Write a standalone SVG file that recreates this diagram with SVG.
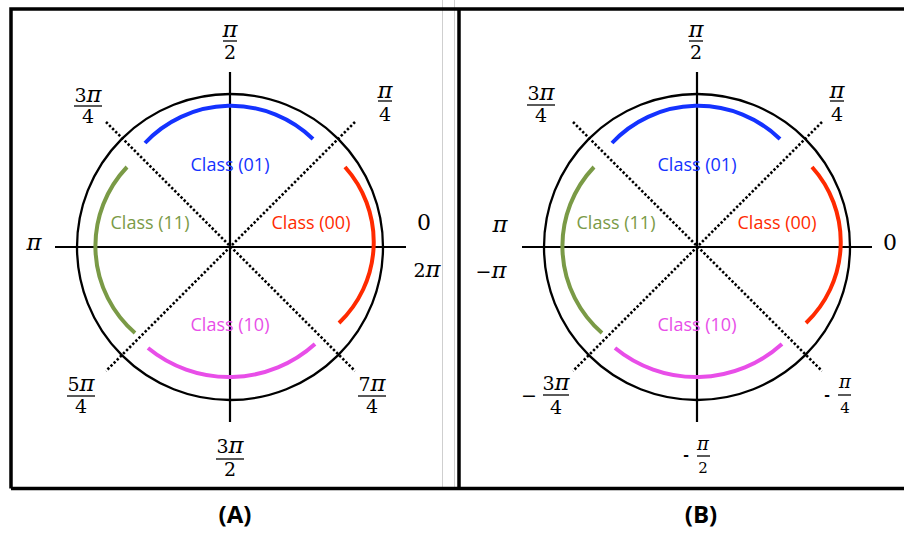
<svg xmlns="http://www.w3.org/2000/svg" width="904" height="534" viewBox="0 0 904 534">
<style>
.frame{fill:none;stroke:#000;stroke-width:3.5}
.guide{fill:none;stroke:#cfcfcf;stroke-width:1}
.circle{fill:none;stroke:#000;stroke-width:2.3}
.axis{fill:none;stroke:#000;stroke-width:2.2}
.dot{fill:none;stroke:#000;stroke-width:2.6;stroke-dasharray:2.4 2}
.arc{fill:none;stroke-width:4;stroke-linecap:butt}
.blue{stroke:#1432ff}.red{stroke:#ff2a00}.green{stroke:#7a9a46}.mag{stroke:#e84ee8}
.cls{font-family:"Open Sans","Liberation Sans",sans-serif;font-size:18px;text-anchor:middle}
.tb{fill:#1432ff}.tr{fill:#ff2a00}.tg{fill:#7a9a46}.tm{fill:#e84ee8}
.m{font-family:"DejaVu Serif","Liberation Serif",serif;font-size:19px;text-anchor:middle;fill:#000}
.ms{font-family:"DejaVu Serif","Liberation Serif",serif;font-size:15px;text-anchor:middle;fill:#000}
.big{font-size:22px}
.pi{font-style:italic;font-size:1.2em}
.bar{stroke:#000;stroke-width:1.3}
.hy{font-family:"Liberation Sans",sans-serif;font-weight:bold;font-size:17px;text-anchor:middle;fill:#000}
.cap{font-family:"Open Sans","Liberation Sans",sans-serif;font-weight:bold;font-size:24px;text-anchor:middle;fill:#000}
</style>
<rect width="904" height="534" fill="#fff"/>
<g id="frames">
<line class="guide" x1="442.5" y1="0" x2="442.5" y2="487"/>
<line class="guide" x1="454.5" y1="0" x2="454.5" y2="487"/>
<path class="frame" d="M11,488.5 V9 H904 M11,488.5 H904 M459,9 V488.5"/>
</g>
<g id="connectors">
<line class="axis" x1="55" y1="247" x2="406" y2="247"/>
<line class="axis" x1="230" y1="72" x2="230" y2="422"/>
<line class="dot" x1="106" y1="122" x2="355" y2="371"/>
<line class="dot" x1="355" y1="122" x2="106" y2="371"/>
<line class="axis" x1="522" y1="247" x2="872" y2="247"/>
<line class="axis" x1="697" y1="72" x2="697" y2="422"/>
<line class="dot" x1="573" y1="122" x2="822" y2="371"/>
<line class="dot" x1="822" y1="122" x2="573" y2="371"/>
</g>
<g id="panelA">
<g id="A-circle"><circle class="circle" cx="230" cy="247" r="153"/></g>
<g id="A-arc-01"><path class="arc blue" d="M145,143 A118,118 0 0 1 313,139"/><text class="cls tb" x="230" y="171">Class (01)</text></g>
<g id="A-arc-00"><path class="arc red" d="M345,167 A112,112 0 0 1 339,323"/><text class="cls tr" x="311" y="229">Class (00)</text></g>
<g id="A-arc-11"><path class="arc green" d="M127,167 A115,115 0 0 0 135,333"/><text class="cls tg" x="150" y="229">Class (11)</text></g>
<g id="A-arc-10"><path class="arc mag" d="M148,348 A128,128 0 0 0 315,344"/><text class="cls tm" x="230" y="331">Class (10)</text></g>
<g id="A-pi2"><text class="m" x="230" y="37"><tspan class="pi">π</tspan></text><line class="bar" x1="223" y1="41" x2="237" y2="41"/><text class="m" x="230" y="59">2</text></g>
<g id="A-3pi4"><text class="m" x="88" y="102">3<tspan class="pi">π</tspan></text><line class="bar" x1="74" y1="106" x2="102" y2="106"/><text class="m" x="88" y="123">4</text></g>
<g id="A-pi4"><text class="m" x="385" y="98"><tspan class="pi">π</tspan></text><line class="bar" x1="378" y1="101" x2="392" y2="101"/><text class="m" x="385" y="121">4</text></g>
<g id="A-0"><text class="m big" x="424" y="230">0</text></g>
<g id="A-pi"><text class="m" x="34" y="250"><tspan class="pi">π</tspan></text></g>
<g id="A-2pi"><text class="m" x="427" y="277">2<tspan class="pi">π</tspan></text></g>
<g id="A-5pi4"><text class="m" x="81" y="391">5<tspan class="pi">π</tspan></text><line class="bar" x1="67" y1="396" x2="95" y2="396"/><text class="m" x="81" y="413">4</text></g>
<g id="A-7pi4"><text class="m" x="372" y="391">7<tspan class="pi">π</tspan></text><line class="bar" x1="358" y1="396" x2="386" y2="396"/><text class="m" x="372" y="413">4</text></g>
<g id="A-3pi2"><text class="m" x="230" y="453">3<tspan class="pi">π</tspan></text><line class="bar" x1="216" y1="459" x2="244" y2="459"/><text class="m" x="230" y="476">2</text></g>
<g id="A-caption"><text class="cap" x="235" y="523">(A)</text></g>
</g>
<g id="panelB">
<g id="B-circle"><circle class="circle" cx="697" cy="247" r="153"/></g>
<g id="B-arc-01"><path class="arc blue" d="M612,143 A118,118 0 0 1 780,139"/><text class="cls tb" x="697" y="171">Class (01)</text></g>
<g id="B-arc-00"><path class="arc red" d="M812,167 A112,112 0 0 1 806,323"/><text class="cls tr" x="777" y="229">Class (00)</text></g>
<g id="B-arc-11"><path class="arc green" d="M594,167 A115,115 0 0 0 602,333"/><text class="cls tg" x="616" y="229">Class (11)</text></g>
<g id="B-arc-10"><path class="arc mag" d="M615,348 A128,128 0 0 0 782,344"/><text class="cls tm" x="697" y="331">Class (10)</text></g>
<g id="B-pi2"><text class="m" x="696" y="37"><tspan class="pi">π</tspan></text><line class="bar" x1="689" y1="41" x2="703" y2="41"/><text class="m" x="696" y="59">2</text></g>
<g id="B-3pi4"><text class="m" x="541" y="100">3<tspan class="pi">π</tspan></text><line class="bar" x1="527" y1="105" x2="555" y2="105"/><text class="m" x="541" y="122">4</text></g>
<g id="B-pi4"><text class="m" x="837" y="98"><tspan class="pi">π</tspan></text><line class="bar" x1="830" y1="101" x2="844" y2="101"/><text class="m" x="837" y="121">4</text></g>
<g id="B-0"><text class="m big" x="890" y="250">0</text></g>
<g id="B-pi"><text class="m" x="500" y="232"><tspan class="pi">π</tspan></text></g>
<g id="B-mpi"><text class="m" x="491" y="278">−<tspan class="pi">π</tspan></text></g>
<g id="B-m3pi4"><text class="m" x="529" y="402">−</text><text class="m" x="556" y="390">3<tspan class="pi">π</tspan></text><line class="bar" x1="543" y1="395" x2="569" y2="395"/><text class="m" x="556" y="414">4</text></g>
<g id="B-mpi4"><text class="hy" x="827" y="400">-</text><text class="ms" x="845" y="388"><tspan class="pi">π</tspan></text><line class="bar" x1="838" y1="395" x2="851" y2="395"/><text class="ms" x="845" y="413">4</text></g>
<g id="B-mpi2"><text class="hy" x="686" y="460">-</text><text class="ms" x="703" y="450"><tspan class="pi">π</tspan></text><line class="bar" x1="697" y1="456" x2="710" y2="456"/><text class="ms" x="703" y="473">2</text></g>
<g id="B-caption"><text class="cap" x="701" y="523">(B)</text></g>
</g>
</svg>
